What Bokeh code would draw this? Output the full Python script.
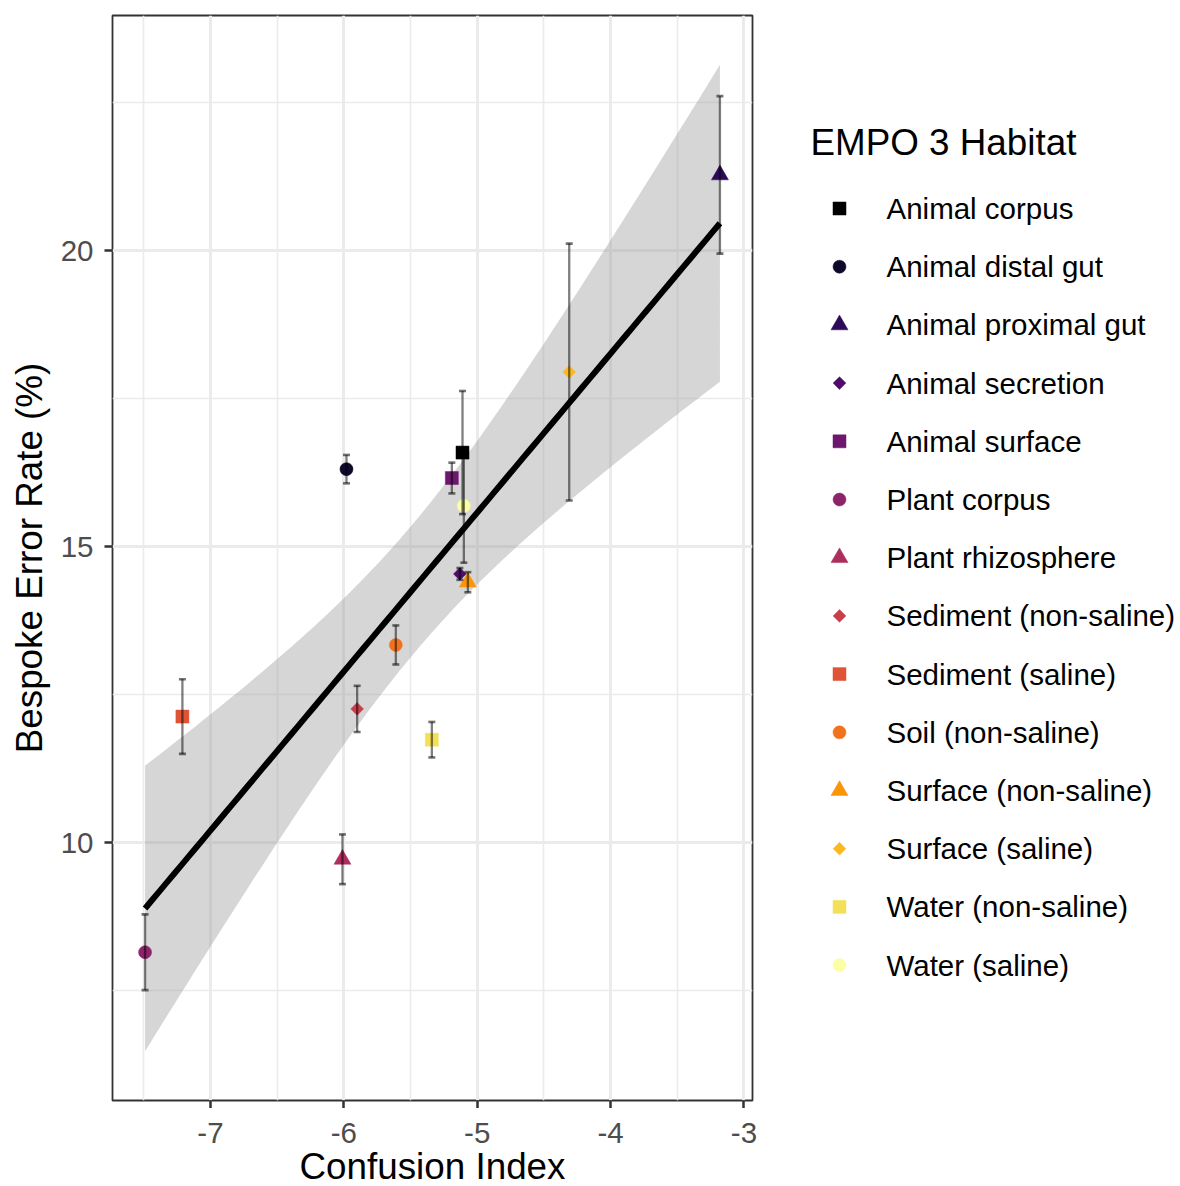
import numpy as np
from bokeh.plotting import figure
from bokeh.models import Range1d, FixedTicker
from bokeh.layouts import row, column
from bokeh.core.properties import value
from bokeh.palettes import inferno
from bokeh.embed import file_html
from bokeh.resources import INLINE

# ---- data -------------------------------------------------------------
habitats = [
    "Animal corpus", "Animal distal gut", "Animal proximal gut",
    "Animal secretion", "Animal surface", "Plant corpus",
    "Plant rhizosphere", "Sediment (non-saline)", "Sediment (saline)",
    "Soil (non-saline)", "Surface (non-saline)", "Surface (saline)",
    "Water (non-saline)", "Water (saline)",
]
confusion_index = [-5.11, -5.98, -3.18, -5.13, -5.19, -7.49, -6.01,
                   -5.90, -7.21, -5.61, -5.07, -4.31, -5.34, -5.10]
error_rate = [16.59, 16.31, 21.28, 14.54, 16.16, 8.15, 9.72,
              12.26, 12.13, 13.34, 14.40, 17.95, 11.74, 15.69]
error_sd = [1.04, 0.24, 1.33, 0.10, 0.26, 0.64, 0.42,
            0.39, 0.63, 0.33, 0.17, 2.17, 0.30, 0.96]

x_ticks = [-7, -6, -5, -4, -3]
x_minor = [-7.5, -6.5, -5.5, -4.5, -3.5]
y_ticks = [10, 15, 20]
y_minor = [7.5, 12.5, 17.5, 22.5]

x_title = "Confusion Index"
y_title = "Bespoke Error Rate (%)"
legend_title = "EMPO 3 Habitat"

# ---- styling ----------------------------------------------------------
FONT = "Liberation Sans"
TICK_FONT_SIZE = "29.5px"
TITLE_FONT_SIZE = "36.8px"
TICK_TEXT = "#4D4D4D"
colors = inferno(len(habitats))
shape_cycle = ["square", "circle", "triangle", "diamond"]
shapes = [shape_cycle[i % 4] for i in range(len(habitats))]


def marker_style(shape):
    if shape == "diamond":
        return dict(marker="square", size=9, angle=np.pi / 4)
    if shape == "triangle":
        return dict(marker="triangle", size=17, angle=0.0)
    return dict(marker=shape, size=13, angle=0.0)


x = np.array(confusion_index)
y = np.array(error_rate)
sd = np.array(error_sd)
lo = y - sd
hi = y + sd

# ---- linear fit with 95% confidence band ---------------------------------
n = len(x)
slope, intercept = np.polyfit(x, y, 1)
resid = y - (slope * x + intercept)
s = np.sqrt(np.sum(resid ** 2) / (n - 2))
sxx = np.sum((x - x.mean()) ** 2)
T975 = 2.178813  # Student t, 0.975 quantile, 12 degrees of freedom
xs = np.linspace(x.min(), x.max(), 80)
fit = slope * xs + intercept
half = T975 * s * np.sqrt(1.0 / n + (xs - x.mean()) ** 2 / sxx)
band_lo = fit - half
band_hi = fit + half

# axis limits: data extent plus 5% padding on each side
cap_half = 0.026
x_lo_d, x_hi_d = x.min() - cap_half, x.max() + cap_half
y_lo_d = min(lo.min(), band_lo.min())
y_hi_d = max(hi.max(), band_hi.max())
xpad = 0.05 * (x_hi_d - x_lo_d)
ypad = 0.05 * (y_hi_d - y_lo_d)
x_start, x_end = x_lo_d - xpad, x_hi_d + xpad

# page geometry (pixels)
LEFT, FRAME_W, RIGHT = 112, 640, 8
TOP, FRAME_H, TICK_LEN = 15, 1085, 8
PAGE_W, PAGE_H = 1180, 1186
MAIN_W = LEFT + FRAME_W + RIGHT
STRIP_TOP = TOP + FRAME_H + TICK_LEN

p = figure(
    frame_width=FRAME_W, frame_height=FRAME_H,
    x_range=Range1d(x_start, x_end),
    y_range=Range1d(y_lo_d - ypad, y_hi_d + ypad),
    output_backend="svg", toolbar_location=None,
    min_border_left=LEFT, min_border_right=RIGHT,
    min_border_top=TOP, min_border_bottom=TICK_LEN,
    background_fill_color="white", border_fill_color="white",
)

# confidence band
p.varea(x=xs, y1=band_lo, y2=band_hi, fill_color="#999999", fill_alpha=0.4)

# points
for i, name in enumerate(habitats):
    st = marker_style(shapes[i])
    p.scatter(x=[x[i]], y=[y[i]], marker=st["marker"], size=st["size"],
              angle=st["angle"], fill_color=colors[i], line_color=colors[i],
              line_width=0.5)

# error bars
p.segment(x0=x, y0=lo, x1=x, y1=hi, line_color="black", line_alpha=0.5,
          line_width=2.3)
p.scatter(x=x, y=lo, marker="dash", size=7, line_color="black",
          line_alpha=0.55, line_width=2.6)
p.scatter(x=x, y=hi, marker="dash", size=7, line_color="black",
          line_alpha=0.55, line_width=2.6)

# regression line
p.line(xs, fit, line_color="black", line_width=6)

# axes
p.xaxis.ticker = FixedTicker(ticks=x_ticks, minor_ticks=x_minor)
p.yaxis.ticker = FixedTicker(ticks=y_ticks, minor_ticks=y_minor)
p.yaxis.axis_label = y_title
for ax in (p.xaxis, p.yaxis):
    ax.axis_line_color = None
    ax.major_tick_in = 0
    ax.major_tick_out = TICK_LEN
    ax.major_tick_line_color = "#333333"
    ax.major_tick_line_width = 2.5
    ax.minor_tick_line_color = None
    ax.major_label_text_font = FONT
    ax.major_label_text_font_size = TICK_FONT_SIZE
    ax.major_label_text_color = TICK_TEXT
    ax.axis_label_text_font = FONT
    ax.axis_label_text_font_size = TITLE_FONT_SIZE
    ax.axis_label_text_font_style = "normal"
    ax.axis_label_text_color = "black"
p.yaxis.major_label_standoff = 11
p.yaxis.axis_label_standoff = 8
# x tick labels and title are set in the strip below the plot
p.xaxis.major_label_overrides = {t: "" for t in x_ticks}
p.xaxis.major_label_text_font_size = "0px"
p.xaxis.major_label_standoff = 0

for g in (p.xgrid, p.ygrid):
    g.grid_line_color = "#EBEBEB"
    g.grid_line_width = 3
    g.minor_grid_line_color = "#EBEBEB"
    g.minor_grid_line_width = 1.6

p.outline_line_color = "#333333"
p.outline_line_width = 1.8
p.outline_line_alpha = 1.0


def blank_panel(x_range, y_range, frame_w, frame_h, top=0, bottom=0):
    """A figure without axes, drawn in its own frame."""
    f = figure(
        frame_width=frame_w, frame_height=frame_h,
        x_range=x_range, y_range=y_range,
        x_axis_location=None, y_axis_location=None,
        output_backend="svg", toolbar_location=None,
        min_border_left=0, min_border_right=0,
        min_border_top=top, min_border_bottom=bottom,
        background_fill_color="white", border_fill_color="white",
    )
    f.grid.visible = False
    f.outline_line_color = None
    return f


# ---- legend panel (page pixel coordinates), frame level with the plot's ----
lg = blank_panel(Range1d(MAIN_W, PAGE_W), Range1d(TOP + FRAME_H, TOP),
                 PAGE_W - MAIN_W, FRAME_H, top=TOP, bottom=TICK_LEN)

title_x, title_y = 810, 142
key_x, label_x = 839, 886
row0, pitch = 208, 58.2

lg.text(x=[title_x], y=[title_y], text=[legend_title],
        text_font=value(FONT), text_font_size=TITLE_FONT_SIZE,
        text_baseline="middle", text_align="left", text_color="black")

key_y = [row0 + i * pitch for i in range(len(habitats))]
for i, name in enumerate(habitats):
    st = marker_style(shapes[i])
    lg.scatter(x=[key_x], y=[key_y[i]], marker=st["marker"], size=st["size"],
               angle=-st["angle"], fill_color=colors[i], line_color=colors[i],
               line_width=0.5)
lg.text(x=[label_x] * len(habitats), y=key_y, text=habitats,
        text_font=value(FONT), text_font_size="29.5px",
        text_baseline="middle", text_align="left", text_color="black")

# ---- strip under the plot: x tick labels and x title -----------------------
# its x range continues the plot's x scale across the whole page width
units_per_px = (x_end - x_start) / FRAME_W
strip_x0 = x_start - LEFT * units_per_px
strip_x1 = strip_x0 + PAGE_W * units_per_px
strip = blank_panel(Range1d(strip_x0, strip_x1), Range1d(PAGE_H, STRIP_TOP),
                    PAGE_W, PAGE_H - STRIP_TOP)
strip.text(x=x_ticks, y=[1132] * len(x_ticks), text=[str(t) for t in x_ticks],
           text_font=value(FONT), text_font_size=TICK_FONT_SIZE,
           text_color=TICK_TEXT, text_baseline="middle", text_align="center")
strip.text(x=[(x_start + x_end) / 2], y=[1166], text=[x_title],
           text_font=value(FONT), text_font_size=TITLE_FONT_SIZE,
           text_baseline="middle", text_align="center", text_color="black")

layout = column(row(p, lg), strip)
open("out.html", "w").write(file_html(layout, INLINE, title=legend_title))
